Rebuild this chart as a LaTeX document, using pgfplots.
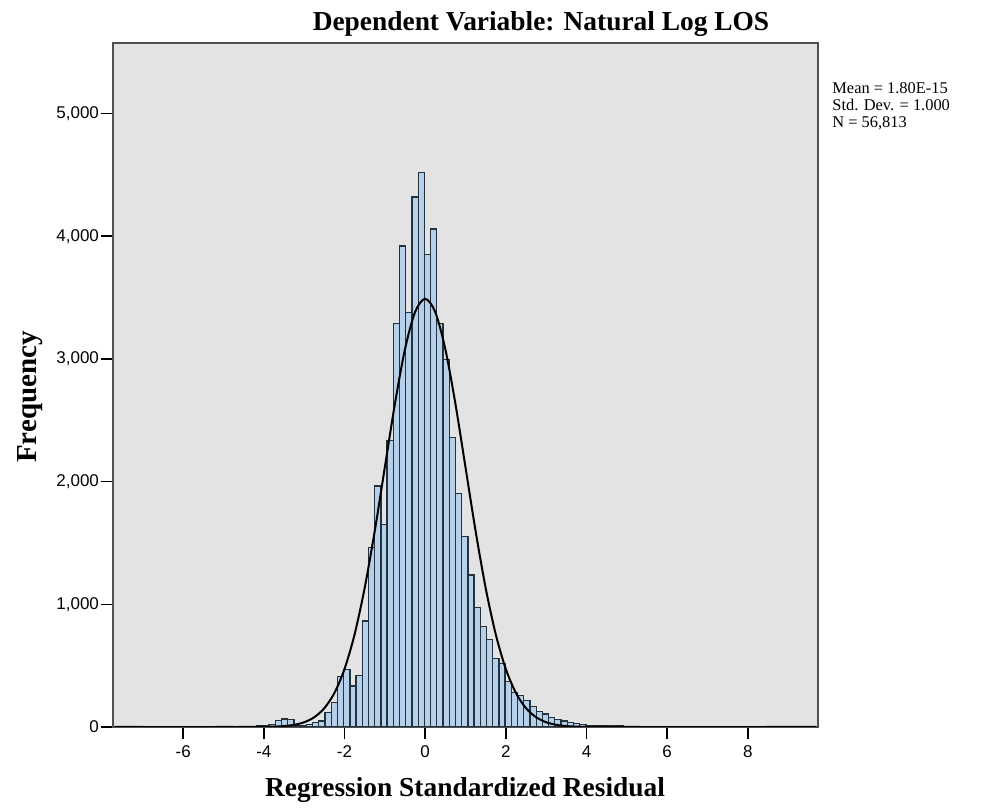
\documentclass[border=0pt]{standalone}
\usepackage{fontspec}
\setmainfont{Liberation Serif}
\newfontfamily\sansf{Liberation Sans}
\usepackage{pgfplots}
\pgfplotsset{compat=1.18}
\usepackage{pgfplotstable}

\definecolor{bggray}{HTML}{E3E3E3}
\definecolor{barblue}{HTML}{B7D0EA}
\definecolor{baredge}{HTML}{23323F}
\definecolor{framegray}{HTML}{505050}

% bin centres (bin width 0.154) and counts
\pgfplotstableread{
x y
-4.408 3
-4.254 5
-4.100 8
-3.946 12
-3.792 18
-3.638 55
-3.484 65
-3.330 62
-3.176 15
-3.022 14
-2.868 22
-2.714 35
-2.560 48
-2.406 116
-2.252 197
-2.098 414
-1.944 468
-1.790 333
-1.636 422
-1.482 863
-1.328 1464
-1.174 1964
-1.020 1653
-0.866 2335
-0.712 3290
-0.558 3920
-0.404 3380
-0.250 4320
-0.096 4520
0.058 3850
0.212 4060
0.366 3290
0.520 2995
0.674 2362
0.828 1905
0.982 1553
1.136 1239
1.290 976
1.444 820
1.598 714
1.752 557
1.906 515
2.060 372
2.214 283
2.368 256
2.522 215
2.676 165
2.830 125
2.984 106
3.138 75
3.292 60
3.446 48
3.600 38
3.754 28
3.908 22
4.062 15
4.216 12
4.370 10
4.524 12
4.678 15
4.832 12
4.986 6
5.140 4
5.294 3
5.448 2
}\residtable

% normal curve, mean 0, sd 1, scaled to the counts
\pgfplotstableread{
x y
-7.70 0
-5.00 0
-4.50 0.1
-4.00 1.2
-3.75 3.1
-3.50 7.6
-3.25 17.7
-3.00 38.8
-2.75 79.6
-2.50 153.3
-2.25 277.7
-2.00 472.3
-1.75 754.8
-1.50 1133.0
-1.25 1597.8
-1.00 2116.8
-0.75 2634.4
-0.50 3079.9
-0.25 3382.6
0.00 3490.0
0.25 3382.6
0.50 3079.9
0.75 2634.4
1.00 2116.8
1.25 1597.8
1.50 1133.0
1.75 754.8
2.00 472.3
2.25 277.7
2.50 153.3
2.75 79.6
3.00 38.8
3.25 17.7
3.50 7.6
3.75 3.1
4.00 1.2
4.50 0.1
5.00 0
9.70 0
}\normtable

\begin{document}
\begin{tikzpicture}[x=1pt,y=1pt]
\useasboundingbox (0,0) rectangle (491,405);
\begin{axis}[
    at={(56.5pt,41.5pt)}, anchor=south west,
    scale only axis,
    width=352.5pt, height=342pt,
    xmin=-7.74, xmax=9.74,
    ymin=0, ymax=5575,
    axis background/.style={fill=bggray},
    axis line style={framegray, line width=1.3pt},
    xtick={-6,-4,...,8},
    ytick={0,1000,...,5000},
    tick pos=left,
    tick align=outside,
    major tick length=6pt,
    tick style={black, line width=0.8pt},
    ticklabel style={font=\sansf\fontsize{8.5}{10}\selectfont},
    yticklabel style={xshift=2.5pt},
    /pgf/number format/assume math mode=true,
    /pgf/number format/1000 sep={,},
    scaled y ticks=false,
]
\addplot [ybar, bar width=0.154, fill=barblue, draw=baredge, line width=0.65pt]
    table [x=x, y=y] {\residtable};
\addplot [black, line width=1pt, smooth, mark=none]
    table [x=x, y=y] {\normtable};
\end{axis}

\node [anchor=base, font=\bfseries\fontsize{13.7}{16}\selectfont]
    at (270.5,389.5) {Dependent Variable: Natural Log LOS};
\node [anchor=base, font=\bfseries\fontsize{13.7}{16}\selectfont]
    at (232.5,6.5) {Regression Standardized Residual};
\node [anchor=base, rotate=90, font=\bfseries\fontsize{14.5}{16}\selectfont]
    at (18,206.5) {Frequency};
\node [anchor=north west, align=left, inner sep=0pt,
       font=\fontsize{8.2}{8.6}\selectfont]
    at (416,364) {Mean = 1.80E-15\\Std. Dev. = 1.000\\N = 56,813};
\end{tikzpicture}
\end{document}
